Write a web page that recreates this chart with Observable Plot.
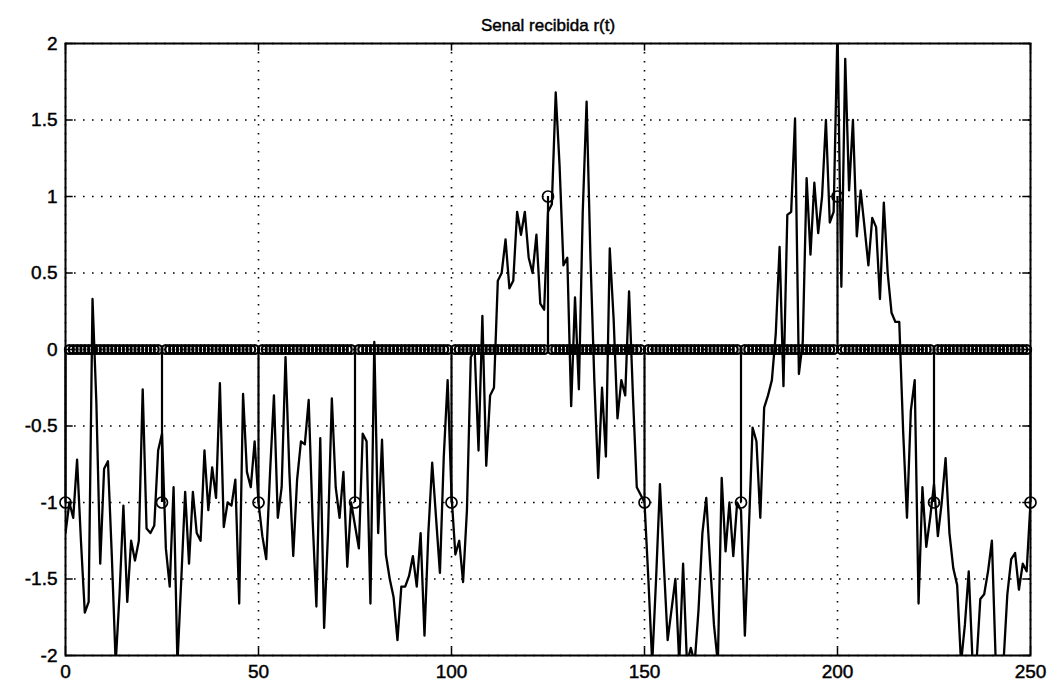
<!DOCTYPE html>
<html><head><meta charset="utf-8">
<script src="https://cdn.jsdelivr.net/npm/d3@7"></script>
<script src="https://cdn.jsdelivr.net/npm/@observablehq/plot@0.6"></script>
<style>
body{margin:0;background:#fff}
#chart svg text{stroke:#000;stroke-width:0.45px}
</style>
</head><body><div id="chart"></div>
<script>
// Received signal r(t), one sample per time step t = 0..250
const signal = [
 -1.2,-1.0,-1.1,-0.72,-1.25,-1.72,-1.65,0.33,-0.35,-1.4,
 -0.78,-0.73,-1.35,-2.05,-1.6,-1.02,-1.65,-1.25,-1.38,-1.25,
 -0.26,-1.17,-1.2,-1.15,-0.66,-0.55,-1.3,-1.55,-0.9,-2.05,
 -1.5,-0.93,-1.4,-0.93,-1.2,-1.25,-0.66,-1.05,-0.77,-0.97,
 -0.22,-1.16,-1.0,-1.02,-0.85,-1.66,-0.29,-0.8,-0.9,-0.6,
 -1.0,-1.22,-1.37,-0.8,-0.3,-1.1,-0.9,-0.05,-0.8,-1.35,
 -0.85,-0.6,-0.62,-0.33,-1.1,-1.68,-0.58,-1.82,-1.2,-0.32,
 -0.9,-1.1,-0.8,-1.42,-1.0,-1.15,-1.3,-0.55,-0.6,-1.66,
 0.05,-1.2,-0.59,-1.34,-1.5,-1.62,-1.9,-1.55,-1.55,-1.48,
 -1.35,-1.55,-1.2,-1.87,-1.2,-0.74,-1.1,-1.46,-0.7,-0.2,
 -0.95,-1.34,-1.25,-1.52,-1.05,-0.05,0.0,-0.66,0.22,-0.76,
 -0.3,-0.25,0.45,0.5,0.72,0.4,0.45,0.9,0.75,0.9,
 0.6,0.5,0.75,0.3,0.26,0.9,0.95,1.68,1.2,0.55,
 0.6,-0.37,0.34,-0.26,0.9,1.62,0.6,-0.2,-0.84,-0.25,
 -0.7,0.66,0.2,-0.45,-0.2,-0.3,0.38,-0.3,-0.9,-0.95,
 -1.0,-1.5,-2.05,-1.5,-0.88,-1.4,-1.9,-1.7,-1.5,-2.05,
 -1.4,-2.05,-1.95,-2.05,-1.7,-1.2,-0.97,-1.4,-1.8,-2.05,
 -0.84,-1.32,-1.0,-1.35,-1.0,-1.05,-1.87,-1.2,-0.51,-0.6,
 -1.1,-0.38,-0.3,-0.2,0.1,0.67,-0.24,0.88,0.9,1.51,
 -0.16,0.05,1.12,0.62,1.09,0.76,1.0,1.5,0.83,0.9,
 2.1,0.41,1.9,1.04,1.5,0.74,1.04,0.8,0.55,0.86,
 0.8,0.33,0.96,0.5,0.24,0.18,0.18,-0.53,-1.1,-0.4,
 -0.2,-1.66,-0.9,-1.29,-1.1,-0.88,-1.22,-1.0,-0.71,-1.2,
 -1.43,-1.54,-2.05,-1.8,-1.45,-2.05,-2.05,-1.63,-1.6,-1.45,
 -1.25,-2.05,-2.05,-2.05,-1.6,-1.37,-1.33,-1.57,-1.4,-1.45,
 -1.0
];
// Transmitted symbols (stems)
const symbolTimes  = [0,25,50,75,100,125,150,175,200,225,250];
const symbolValues = [-1,-1,-1,-1,-1,1,-1,-1,1,-1,-1];
const xTicks = [0,50,100,150,200,250];
const yTicks = [-2,-1.5,-1,-0.5,0,0.5,1,1.5,2];
const title = "Senal recibida r(t)";

const sig = signal.map((v,i)=>({t:i, v}));
const stems = symbolTimes.map((t,i)=>({t, v:symbolValues[i]}));
const zeros = d3.range(0, 251).filter(t => !symbolTimes.includes(t)).map(t => ({t, v:0}));

const chart = Plot.plot({
  width: 1055, height: 691,
  marginLeft: 65, marginRight: 25, marginTop: 43, marginBottom: 36,
  x: {domain: [0, 250], label: null},
  y: {domain: [-2, 2], label: null},
  style: {fontFamily: "'Liberation Sans', Arial, sans-serif", fontSize: "19px", color: "#000", background: "#fff"},
  marks: [
    Plot.gridX(xTicks, {stroke: "#000", strokeOpacity: 1, strokeWidth: 1.6, strokeDasharray: "1.6,7.4"}),
    Plot.gridY(yTicks, {stroke: "#000", strokeOpacity: 1, strokeWidth: 1.6, strokeDasharray: "1.6,7.4"}),
    // inward tick marks on all sides
    Plot.ruleX(xTicks, {y1: -2, y2: -1.95, stroke: "#000", strokeWidth: 1.5}),
    Plot.ruleX(xTicks, {y1: 2, y2: 1.95, stroke: "#000", strokeWidth: 1.5}),
    Plot.ruleY(yTicks, {x1: 0, x2: 2, stroke: "#000", strokeWidth: 1.5}),
    Plot.ruleY(yTicks, {x1: 250, x2: 248, stroke: "#000", strokeWidth: 1.5}),
    Plot.line(sig, {x: "t", y: "v", stroke: "#000", strokeWidth: 2.3, clip: true}),
    Plot.ruleX(stems, {x: "t", y1: 0, y2: "v", stroke: "#000", strokeWidth: 2.2}),
    Plot.dot(zeros, {x: "t", y: "v", r: 4.4, stroke: "#000", strokeWidth: 2.3, fill: "none"}),
    Plot.dot(stems, {x: "t", y: "v", r: 5.5, stroke: "#000", strokeWidth: 1.7, fill: "none"}),
    Plot.frame({stroke: "#000", strokeWidth: 2}),
    Plot.axisX(xTicks, {tickSize: 0, tickPadding: 9, tickFormat: d => String(d), fontSize: 19}),
    Plot.axisY(yTicks, {tickSize: 0, tickPadding: 8, tickFormat: d => String(d), fontSize: 19}),
    Plot.text([title], {frameAnchor: "top", dy: -25, fontSize: 17})
  ]
});
document.getElementById("chart").appendChild(chart);
</script>
</body></html>
